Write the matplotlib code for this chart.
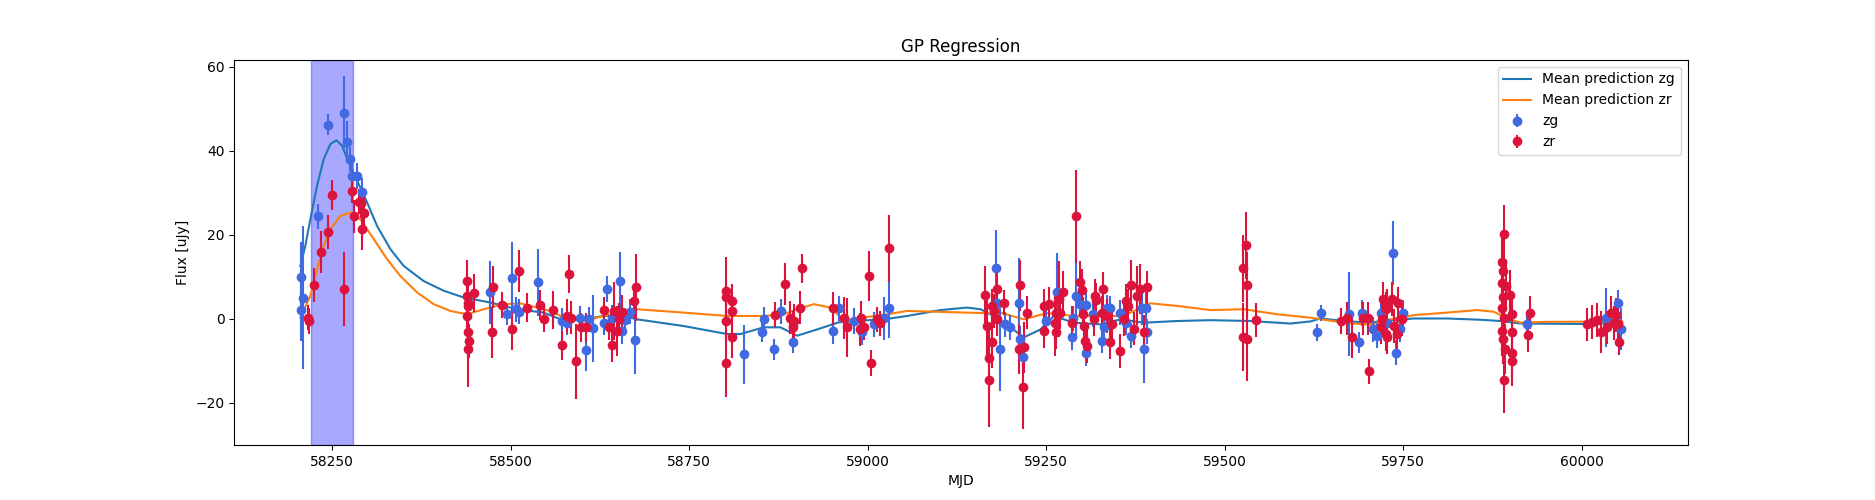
import numpy as np
import matplotlib.pyplot as plt

# observed photometry, zg band: MJD, flux [uJy], 1-sigma error
zg_mjd = [58206.0, 58206.5, 58209.6, 58229.7, 58243.7, 58267.1, 58270.8, 58274.5, 58278.3, 58284.9,
          58292.3, 58470.6, 58494.9, 58501.4, 58508.0, 58511.2, 58537.8, 58572.0, 58579.0, 58597.6,
          58605.0, 58609.2, 58615.4, 58630.2, 58635.0, 58642.0, 58652.7, 58656.0, 58660.6, 58667.6,
          58673.6, 58827.3, 58851.5, 58854.3, 58868.4, 58879.2, 58895.0, 58951.0, 58959.4, 58980.4,
          58992.2, 59008.4, 59022.4, 59029.4, 59180.3, 59181.2, 59184.9, 59192.9, 59199.9, 59211.5,
          59212.9, 59217.6, 59250.3, 59265.3, 59286.3, 59287.0, 59292.3, 59297.9, 59305.9, 59306.3,
          59315.7, 59328.7, 59330.5, 59335.3, 59339.9, 59353.9, 59361.0, 59369.3, 59384.3, 59386.5,
          59389.0, 59391.3, 59629.4, 59634.1, 59673.7, 59688.1, 59691.5, 59707.8, 59712.6, 59718.1,
          59726.9, 59735.9, 59739.9, 59745.5, 59750.1, 59923.6, 60033.3, 60050.3, 60054.9]
zg_flux = [10.0, 2.2, 5.0, 24.4, 46.2, 49.1, 42.2, 38.0, 34.0, 34.0,
           30.1, 6.3, 1.1, 9.8, 2.3, 1.7, 8.7, -0.5, -0.9, 0.1,
           -7.5, -0.1, -2.2, -0.9, 7.1, 0.3, 9.0, -2.9, -0.3, 1.7,
           -5.1, -8.4, -3.0, -0.1, -7.2, 1.8, -5.6, -2.9, 2.5, -0.5,
           -3.2, -1.3, 0.1, 2.5, 12.2, 3.9, -7.2, -1.3, -2.0, 3.9,
           -4.7, -9.0, -0.6, 6.3, -4.4, 0.1, 5.5, 3.5, -8.2, 3.3,
           1.1, -5.2, -2.0, 2.7, 2.5, 1.5, -0.9, -4.0, 2.5, -7.2,
           2.5, -3.0, -3.2, 1.4, 1.1, -5.5, 1.4, -2.5, -4.0, 1.5,
           -0.9, 15.6, -8.0, -2.5, 1.4, -1.3, 0.3, 3.9, -2.3]
zg_err = [8.2, 7.5, 17.0, 3.0, 2.5, 8.6, 5.0, 3.0, 3.0, 3.0,
          3.5, 7.5, 2.5, 8.4, 3.0, 3.0, 8.0, 3.0, 3.0, 3.0,
          5.0, 3.0, 8.0, 3.0, 3.0, 3.0, 7.0, 3.0, 3.0, 3.0,
          8.0, 7.0, 2.5, 3.0, 2.5, 3.0, 2.5, 3.0, 3.0, 3.0,
          3.0, 3.0, 5.0, 7.0, 9.0, 3.0, 10.0, 3.0, 3.0, 10.7,
          3.0, 3.0, 3.0, 9.5, 3.0, 3.0, 10.0, 3.0, 3.0, 3.0,
          3.0, 3.0, 3.0, 3.0, 3.0, 3.0, 3.0, 3.0, 4.0, 8.0,
          4.0, 3.0, 2.0, 2.0, 10.0, 2.5, 3.0, 3.0, 3.0, 3.0,
          3.0, 7.6, 3.0, 3.0, 3.0, 3.0, 7.0, 3.0, 5.0]

# observed photometry, zr band
zr_mjd = [58216.6, 58217.5, 58224.1, 58234.4, 58243.7, 58249.3, 58267.1, 58278.3, 58281.1, 58287.7,
          58290.2, 58292.3, 58295.1,
          58438.5, 58439.0, 58439.5, 58440.0, 58438.8, 58440.5, 58441.0, 58439.8, 58449.1, 58473.4,
          58474.8, 58487.9, 58501.4, 58511.2, 58523.0, 58541.6, 58546.2, 58558.8, 58572.0, 58579.0,
          58581.2, 58584.6, 58591.0, 58599.0, 58605.0, 58631.2, 58637.2, 58642.0, 58644.2, 58649.0,
          58651.2, 58656.0, 58673.2, 58676.0,
          58801.1, 58801.5, 58800.8, 58801.3, 58810.0, 58810.4, 58809.6, 58870.7, 58884.3, 58890.8,
          58895.5, 58897.4, 58904.7, 58907.6,
          58951.6, 58967.4, 58971.2, 58988.8, 58990.8, 58995.4, 59001.4, 59005.2, 59013.2, 59016.8,
          59029.4,
          59163.5, 59167.2, 59169.5, 59170.0, 59174.2, 59174.6, 59177.5, 59181.2, 59181.6, 59190.5,
          59212.9, 59211.5, 59218.5, 59217.1, 59223.3, 59246.5, 59247.5, 59253.5, 59262.9, 59263.4,
          59264.3, 59267.5, 59269.9, 59273.7, 59286.3, 59292.3, 59297.9, 59300.3, 59301.7, 59302.2,
          59304.0, 59307.3, 59316.5, 59318.0, 59320.3, 59328.3, 59329.7, 59335.3, 59338.9, 59342.3,
          59353.9, 59358.6, 59362.3, 59364.2, 59369.3, 59372.6, 59377.3, 59381.0, 59386.5, 59391.3,
          59525.8, 59530.4, 59530.9, 59525.8, 59531.3, 59544.4,
          59662.1, 59671.5, 59678.8, 59693.8, 59700.8, 59701.5, 59718.1, 59720.5, 59722.2, 59725.1,
          59725.6, 59727.5, 59726.5, 59733.9, 59736.4, 59741.1, 59743.1, 59747.9,
          59890.8, 59888.5, 59889.9, 59888.7, 59893.2, 59899.2, 59889.5, 59888.3, 59902.7, 59890.6,
          59888.9, 59902.3, 59889.7, 59893.0, 59902.0, 59902.6, 59890.4, 59924.5, 59927.3,
          60007.6, 60014.6, 60021.6, 60026.3, 60035.6, 60040.3, 60044.9, 60047.3, 60050.0, 60052.6]
zr_flux = [0.3, -0.5, 8.0, 16.0, 20.7, 29.5, 7.1, 30.5, 24.4, 27.9,
           27.5, 21.4, 25.3,
           9.1, 5.5, 3.9, 3.1, 0.7, -3.2, -5.2, -7.1, 6.1, -3.2,
           7.5, 3.3, -2.5, 11.3, 2.7, 3.3, -0.1, 2.1, -6.3, 0.7,
           10.6, 0.3, -10.1, -2.0, -2.0, 2.1, -2.0, -6.3, 1.9, -2.9,
           -0.1, 1.7, 4.3, 7.5,
           6.7, 5.2, -0.6, -10.6, 4.3, 1.8, -4.2, 1.0, 8.3, 0.3,
           -2.0, -0.5, 2.7, 12.0,
           2.5, 0.3, -2.0, -2.5, 0.3, -2.0, 10.2, -10.5, -0.1, -1.0,
           16.8,
           5.6, -1.7, -9.4, -14.6, 3.1, -5.6, 1.9, 7.2, -0.1, 3.9,
           8.0, -7.2, -6.8, -16.1, 1.5, -2.9, 3.1, 3.5, -0.9, -3.1,
           1.5, 4.7, 1.5, 6.3, -0.9, 24.4, 8.7, 6.9, 1.1, -1.7,
           -5.2, -6.4, -0.1, 5.5, 4.5, 1.5, 7.1, 0.7, -5.5, -1.3,
           -7.6, -0.1, 4.3, 3.0, 8.0, -2.3, 5.5, 7.1, -3.0, 7.5,
           12.0, 17.5, 8.0, -4.3, -4.8, -0.3,
           -0.5, 0.1, -4.2, 0.1, 0.1, -12.5, -2.0, -0.1, 4.7, 2.3,
           -3.6, 3.1, -4.4, 4.7, -1.7, -3.6, 3.7, -0.1,
           20.2, 13.6, 11.4, 8.5, 7.9, 5.6, 5.1, 2.5, 1.1, 0.1,
           -2.9, -3.0, -4.7, -7.2, -8.2, -10.0, -14.5, -3.8, 1.5,
           -1.3, -0.7, -0.2, -3.1, -2.0, 1.5, -0.9, 1.0, -1.3, -5.6]
zr_err = [3.0, 3.0, 4.0, 5.0, 4.0, 3.5, 8.8, 3.0, 4.0, 3.0,
          3.5, 5.0, 4.0,
          5.0, 4.0, 4.0, 3.0, 4.0, 4.0, 4.0, 9.0, 4.5, 6.0,
          5.0, 3.0, 5.0, 5.0, 3.5, 3.5, 3.0, 4.5, 3.5, 4.0,
          4.5, 4.0, 9.0, 3.5, 3.5, 3.0, 3.0, 4.0, 7.0, 6.0,
          4.0, 4.0, 4.0, 8.0,
          8.0, 4.0, 5.0, 8.0, 4.0, 4.0, 5.0, 3.0, 5.0, 4.0,
          4.0, 4.0, 4.0, 3.5,
          4.0, 5.0, 7.0, 4.0, 4.0, 3.0, 6.0, 3.0, 3.0, 3.0,
          8.0,
          7.0, 8.0, 8.0, 11.0, 4.0, 6.0, 4.0, 4.0, 4.0, 3.0,
          6.0, 6.0, 6.0, 10.0, 4.0, 4.0, 4.0, 4.0, 8.0, 4.0,
          4.0, 9.0, 4.0, 5.0, 4.0, 11.0, 5.0, 5.0, 4.0, 4.0,
          4.0, 4.0, 4.0, 4.0, 4.0, 4.0, 4.0, 4.0, 4.0, 4.0,
          4.0, 4.0, 4.0, 4.0, 6.0, 4.0, 7.0, 6.0, 4.0, 4.0,
          8.0, 8.0, 8.0, 8.0, 10.0, 4.0,
          3.0, 4.0, 5.0, 4.0, 4.0, 3.0, 4.0, 4.0, 4.0, 4.0,
          4.0, 4.0, 4.0, 4.0, 4.0, 4.0, 4.0, 4.0,
          7.0, 7.0, 6.0, 6.0, 6.0, 6.0, 6.0, 6.0, 5.0, 6.0,
          6.0, 6.0, 6.0, 6.0, 6.0, 6.0, 8.0, 4.0, 4.0,
          4.0, 4.0, 4.0, 5.0, 4.0, 4.0, 4.0, 4.0, 4.0, 3.0]

# GP mean predictions
mean_zg_mjd = [58205.4, 58212.4, 58219.4, 58228.8, 58238.1, 58247.5, 58255.9, 58263.8, 58273.1, 58284.9,
               58298.9, 58312.9, 58331.5, 58350.1, 58378.1, 58406.1, 58434.2, 58471.6, 58509.0, 58546.2,
               58569.6, 58602.2, 58630.2, 58658.3, 58677.0, 58742.3, 58803.1, 58821.7, 58854.4, 58877.7,
               58901.1, 58929.1, 58959.5, 59027.2, 59055.2, 59101.8, 59139.2, 59157.9, 59176.5, 59199.9,
               59218.5, 59241.9, 59260.5, 59288.5, 59325.9, 59353.9, 59386.5, 59433.4, 59480.0, 59536.0,
               59592.0, 59620.0, 59634.1, 59666.7, 59704.1, 59718.1, 59764.7, 59811.5, 59858.2, 59886.2,
               59914.2, 59998.2, 60056.6]
mean_zg = [12.6, 17.4, 23.7, 31.7, 38.0, 41.6, 42.5, 41.2, 37.2, 32.9,
           27.7, 22.1, 16.6, 12.6, 9.0, 6.7, 5.1, 3.9, 2.3, 1.5,
           -0.1, -0.1, 0.7, 0.7, -0.1, -1.7, -3.6, -3.6, -2.0, -2.0,
           -4.0, -2.5, -0.8, 0.0, 0.7, 2.1, 2.7, 2.3, 0.7, -2.0,
           -4.4, -2.5, 0.7, -0.9, -1.3, -0.1, -0.9, -0.5, -0.3, -0.5,
           -1.1, -0.6, 0.1, -0.5, -0.9, -0.5, 0.1, 0.1, -0.2, -0.5,
           -1.1, -1.2, -1.0]

mean_zr_mjd = [58205.4, 58219.4, 58228.8, 58238.1, 58247.5, 58261.5, 58275.5, 58289.5, 58308.1, 58326.9,
               58345.5, 58368.9, 58392.1, 58415.5, 58438.9, 58462.2, 58490.2, 58513.6, 58537.0, 58555.6,
               58569.6, 58602.2, 58630.2, 58658.3, 58677.0, 58742.3, 58803.1, 58854.4, 58882.3, 58901.1,
               58924.4, 58947.8, 58966.4, 59027.2, 59055.2, 59157.9, 59185.9, 59218.5, 59251.3, 59288.5,
               59325.9, 59353.9, 59368.0, 59396.0, 59433.4, 59480.0, 59526.7, 59573.5, 59620.0, 59666.7,
               59704.1, 59732.0, 59764.7, 59811.5, 59853.5, 59876.8, 59895.6, 59914.2, 59951.2, 60056.6]
mean_zr = [0.3, 5.5, 11.8, 17.4, 21.4, 24.5, 25.3, 23.7, 19.0, 14.2,
           10.2, 6.3, 3.5, 1.9, 1.1, 2.3, 3.5, 3.7, 2.7, 1.9,
           0.7, -0.5, 0.7, 1.9, 2.3, 1.5, 0.7, 0.7, 1.1, 2.3,
           3.5, 2.7, -0.3, 1.1, 1.9, 1.4, 1.5, -0.1, 1.4, 0.7,
           0.7, 0.7, 1.5, 3.7, 3.1, 2.1, 2.3, 1.1, 0.3, -0.9,
           -1.4, -0.1, 0.9, 1.5, 2.1, 1.7, 0.1, -0.9, -0.7, -0.6]

# highlighted window
span_start = 58220.4
span_end = 58279.2

fig, ax = plt.subplots(figsize=(18.75, 5), dpi=100)

ax.axvspan(span_start, span_end, color="blue", alpha=0.34)

ax.plot(mean_zg_mjd, mean_zg, color="#1f77b4", label="Mean prediction zg")
ax.plot(mean_zr_mjd, mean_zr, color="#ff7f0e", label="Mean prediction zr")

ax.errorbar(zg_mjd, zg_flux, yerr=zg_err, fmt="o", color="royalblue", label="zg")
ax.errorbar(zr_mjd, zr_flux, yerr=zr_err, fmt="o", color="crimson", label="zr")

ax.set_xlim(58113, 60148)
ax.set_ylim(-30, 61.6)
ax.set_xlabel("MJD")
ax.set_ylabel("Flux [uJy]")
ax.set_title("GP Regression")
ax.legend(loc="upper right")

fig.savefig("out.png", dpi=100)
